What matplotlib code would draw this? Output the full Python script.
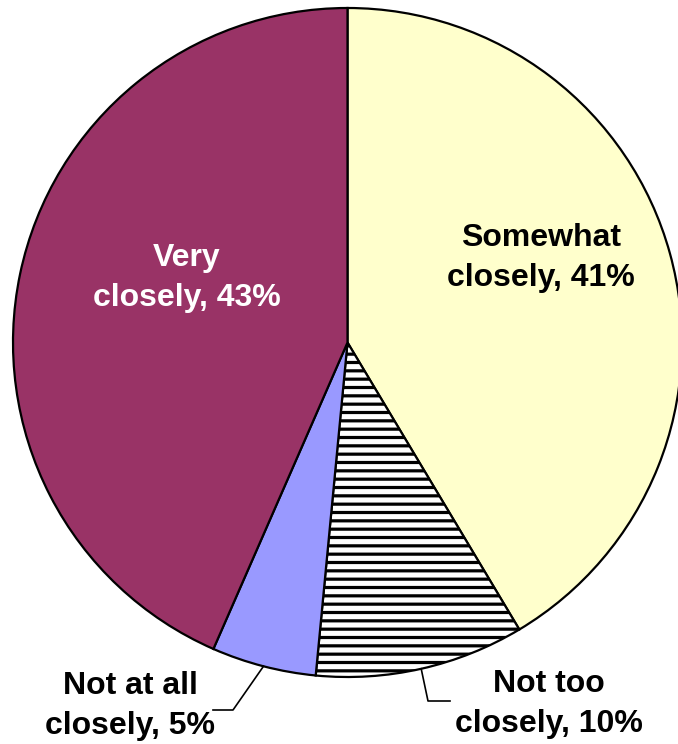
import matplotlib
matplotlib.use("Agg")
import matplotlib.pyplot as plt
import numpy as np

labels = ["Somewhat\nclosely, 41%", "Not too\nclosely, 10%", "Not at all\nclosely, 5%", "Very\nclosely, 43%"]
values = [41, 10, 5, 43]
colors = ["#FFFFCC", "#FFFFFF", "#9999FF", "#993366"]
hatches = [None, "--", None, None]
text_colors = ["black", "black", "black", "white"]

plt.rcParams['hatch.linewidth'] = 2.3
plt.rcParams['font.family'] = ['Liberation Sans', 'DejaVu Sans']

W, H = 678, 744
fig = plt.figure(figsize=(W / 100, H / 100), dpi=100)
ax = fig.add_axes([0, 0, 1, 1])

cx, cy, r = 347.5, H - 342.5, 334.5
wedges, _ = ax.pie(values, colors=colors, startangle=90, counterclock=False,
                   center=(cx, cy), radius=r, frame=True,
                   wedgeprops=dict(edgecolor='black', linewidth=1.6))
for w, h in zip(wedges, hatches):
    if h:
        w.set_hatch(h)
ax.set_xlim(0, W)
ax.set_ylim(0, H)
ax.set_aspect('equal')
ax.axis('off')

# label positions (pixel coords from top-left)
label_pos = [(541, 258), (549, 704), (130, 706), (187, 278)]
for lab, (x, y), tc in zip(labels, label_pos, text_colors):
    ax.text(x, H - y, lab, ha='center', va='center', fontsize=23,
            fontweight='bold', color=tc, linespacing=1.45)

# leader lines
total = sum(values)
cum = np.cumsum([0] + values)
def edge_point(i):
    mid = (cum[i] + cum[i + 1]) / 2 / total * 2 * np.pi
    return cx + r * np.sin(mid), cy + r * np.cos(mid)

x0, y0 = edge_point(2)
ax.plot([x0, 233, 213], [y0, H - 710, H - 710], color='black', lw=1.2)
x1, y1 = edge_point(1)
ax.plot([x1, 428, 450], [y1, H - 701, H - 701], color='black', lw=1.2)

fig.savefig("out.png", dpi=100)
